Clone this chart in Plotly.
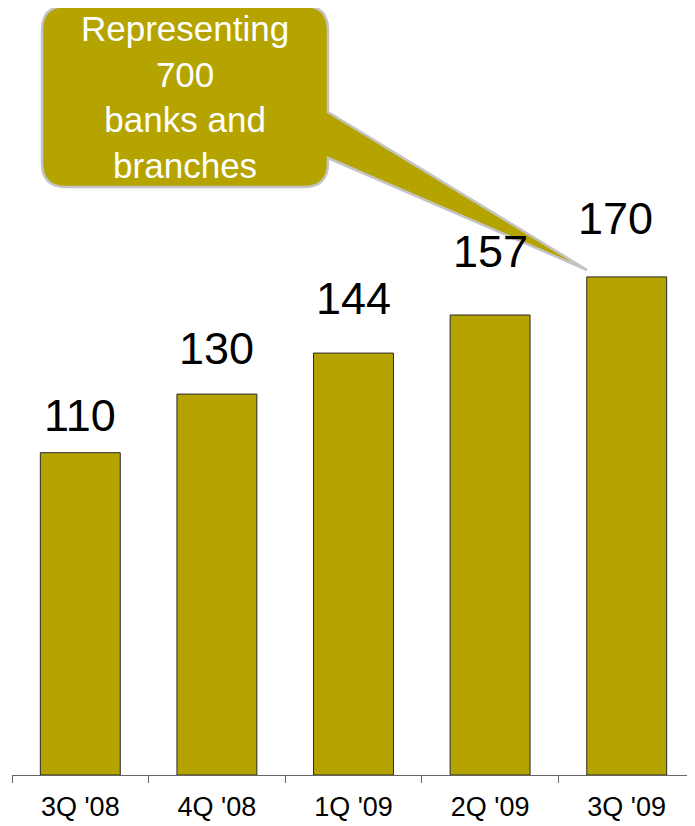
import plotly.graph_objects as go

quarters = ["3Q '08", "4Q '08", "1Q '09", "2Q '09", "3Q '09"]
values = [110, 130, 144, 157, 170]
callout_text = "Representing<br>700<br>banks and<br>branches"

# per-label placement tweaks (pixels), matching the reference layout
label_yshift = [10, 18, 27, 36, 31]
label_xshift = [0, 0, 0, 0, -11]

OFF = 8                      # page body margin in the screenshot
SW, SH = 695, 826            # screen size
W, H = SW - OFF, SH - OFF    # figure size
# plot area in screen pixels
PX0, PX1, PY1 = 12, 695, 775
ML = PX0 - OFF
MR = max(0, W - (PX1 - OFF))
MB = H - (PY1 - OFF)
MT = 0
PW, PH = W - ML - MR, H - MT - MB
OLIVE = "#B5A300"
FONT = "Liberation Sans, Arial"

def P(x, y):
    """screen pixel -> paper coords"""
    a = (x - OFF - ML) / PW
    b = (H - MB - (y - OFF)) / PH
    return f"{a:.5f},{b:.5f}"

fig = go.Figure(go.Bar(
    x=quarters, y=values, width=0.585,
    marker=dict(color=OLIVE, line=dict(color="#2a2a2a", width=1)),
    hoverinfo="x+y",
))

for q, v, ys, xs in zip(quarters, values, label_yshift, label_xshift):
    fig.add_annotation(x=q, y=v, text=str(v), showarrow=False,
                       xanchor="center", yanchor="bottom", yshift=ys, xshift=xs,
                       font=dict(family=FONT, size=45, color="black"))

# callout box with pointer
x0, x1, y0, y1, r = 42, 328, 6, 187, 24
tip = (587, 270)
path = (
    f"M {P(x0 + r, y0)} L {P(x1 - r, y0)} Q {P(x1, y0)} {P(x1, y0 + r)} "
    f"L {P(x1, 112)} L {P(*tip)} L {P(x1, 158)} "
    f"L {P(x1, y1 - r)} Q {P(x1, y1)} {P(x1 - r, y1)} "
    f"L {P(x0 + r, y1)} Q {P(x0, y1)} {P(x0, y1 - r)} "
    f"L {P(x0, y0 + r)} Q {P(x0, y0)} {P(x0 + r, y0)} Z"
)
fig.add_shape(type="path", xref="paper", yref="paper", path=path,
              fillcolor=OLIVE, line=dict(color="#c4c4c4", width=2.5), layer="above")

cx, cy = [float(t) for t in P(185, 97).split(",")]
fig.add_annotation(xref="paper", yref="paper", x=cx, y=cy, text=callout_text,
                   showarrow=False, xanchor="center", yanchor="middle",
                   font=dict(family=FONT, size=35, color="white"))

fig.update_layout(
    width=W, height=H, margin=dict(l=ML, r=MR, t=MT, b=MB),
    plot_bgcolor="white", paper_bgcolor="white", showlegend=False,
)
fig.update_xaxes(showline=True, linecolor="#666", linewidth=1,
                 ticks="outside", tickcolor="#666", ticklen=7,
                 tickson="boundaries", ticklabelstandoff=8,
                 tickfont=dict(family=FONT, size=27, color="black"),
                 range=[-0.5, 4.5])
fig.update_yaxes(visible=False, range=[0, PH / 2.93])

fig.write_html("out.html")
